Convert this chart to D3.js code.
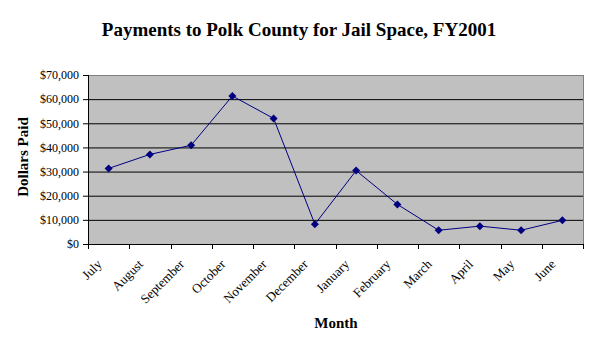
<!DOCTYPE html>
<html>
<head>
<meta charset="utf-8">
<script src="https://cdn.jsdelivr.net/npm/d3@7"></script>
<style>
  body { margin: 0; background: #fff; }
  text { font-family: "Liberation Serif", "Times New Roman", serif; }
</style>
</head>
<body>
<div class="chart"></div>
<script>
// data
const months = ["July", "August", "September", "October", "November", "December",
                "January", "February", "March", "April", "May", "June"];
const payments = [31300, 37100, 40900, 61300, 52000, 8200,
                  30400, 16400, 5700, 7400, 5700, 9800];
const yTicks = [0, 10000, 20000, 30000, 40000, 50000, 60000, 70000];

let margin = { top: 75, right: 17, bottom: 118, left: 88 },
    width = 600 - margin.left - margin.right,
    height = 362 - margin.top - margin.bottom;

let svg = d3.select(".chart")
    .append("svg")
    .attr("width", 600)
    .attr("height", 362);

let g = svg.append("g")
    .attr("transform", `translate(${margin.left},${margin.top})`);

let xScale = d3.scaleBand()
    .domain(months)
    .range([0, width])
    .padding(0);

let yScale = d3.scaleLinear()
    .domain([0, 70000])
    .range([height, 0]);

// plot area
g.append("rect")
    .attr("width", width)
    .attr("height", height)
    .attr("fill", "#c0c0c0");

// gridlines
g.selectAll(".grid")
    .data(yTicks.slice(1))
    .join("line")
    .attr("class", "grid")
    .attr("x1", 0).attr("x2", width)
    .attr("y1", d => yScale(d) + 0.5).attr("y2", d => yScale(d) + 0.5)
    .attr("stroke", d => d === 70000 ? "#808080" : "#000")
    .attr("stroke-width", 1);

// right border
g.append("line")
    .attr("x1", width + 0.5).attr("x2", width + 0.5)
    .attr("y1", 0).attr("y2", height)
    .attr("stroke", "#808080");

// axes
let yAxis = d3.axisLeft(yScale)
    .tickValues(yTicks)
    .tickSize(5)
    .tickPadding(4)
    .tickFormat(d => "$" + d3.format(",")(d));

let yg = g.append("g").call(yAxis);
yg.select(".domain").attr("d", `M0.5,0V${height}`).attr("stroke", "#000");
yg.selectAll(".tick line").attr("stroke", "#000");
yg.selectAll("text")
    .style("font-size", "12px")
    .attr("fill", "#000");

let boundaries = months.map(m => xScale(m)).concat([width]);
let xg = g.append("g").attr("transform", `translate(0,${height})`);
xg.append("line")
    .attr("x1", 0).attr("x2", width)
    .attr("y1", 0.5).attr("y2", 0.5)
    .attr("stroke", "#000");
xg.selectAll(".xt")
    .data(boundaries)
    .join("line")
    .attr("class", "xt")
    .attr("x1", d => Math.round(d) + 0.5).attr("x2", d => Math.round(d) + 0.5)
    .attr("y1", 0).attr("y2", 5)
    .attr("stroke", "#000");

xg.selectAll(".xl")
    .data(months)
    .join("text")
    .attr("class", "xl")
    .attr("transform", d => `translate(${xScale(d) + xScale.bandwidth() / 2 - 6},${21}) rotate(-45)`)
    .attr("text-anchor", "end")
    .style("font-size", "13px")
    .text(d => d);

// line + markers
let line = d3.line()
    .x((d, i) => xScale(months[i]) + xScale.bandwidth() / 2)
    .y(d => yScale(d));

g.append("path")
    .datum(payments)
    .attr("d", line)
    .attr("fill", "none")
    .attr("stroke", "#000080")
    .attr("stroke-width", 1);

g.selectAll(".pt")
    .data(payments)
    .join("path")
    .attr("class", "pt")
    .attr("d", "M0,-4L4,0L0,4L-4,0Z")
    .attr("transform", (d, i) => `translate(${xScale(months[i]) + xScale.bandwidth() / 2},${yScale(d)})`)
    .attr("fill", "#000080");

// titles
svg.append("text")
    .attr("x", 299).attr("y", 36)
    .attr("text-anchor", "middle")
    .style("font-size", "19px")
    .style("font-weight", "bold")
    .text("Payments to Polk County for Jail Space, FY2001");

svg.append("text")
    .attr("transform", "translate(28,157) rotate(-90)")
    .attr("text-anchor", "middle")
    .style("font-size", "15px")
    .style("font-weight", "bold")
    .text("Dollars Paid");

svg.append("text")
    .attr("x", 336).attr("y", 328)
    .attr("text-anchor", "middle")
    .style("font-size", "15px")
    .style("font-weight", "bold")
    .text("Month");
</script>
</body>
</html>
